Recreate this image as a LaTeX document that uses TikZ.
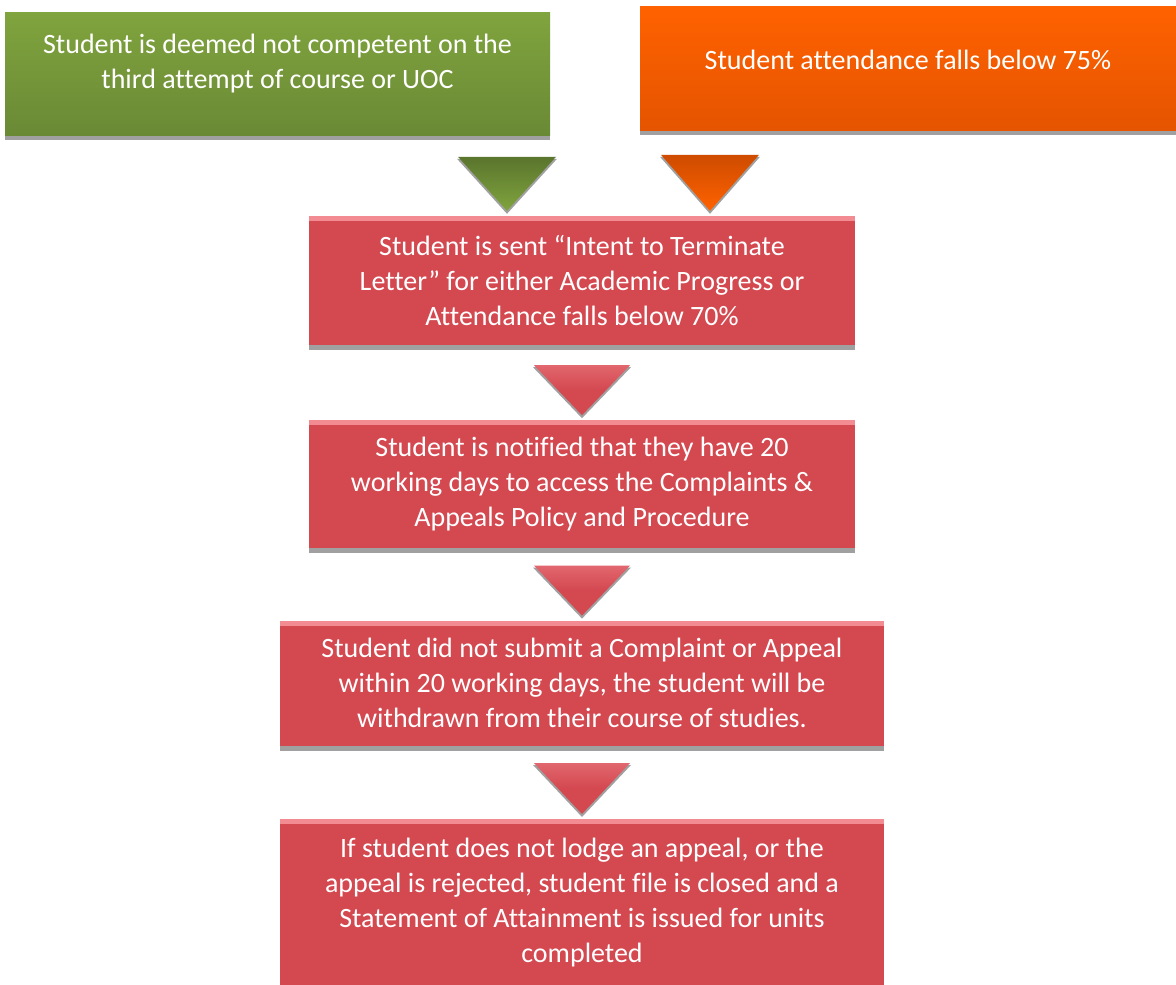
\documentclass[tikz,border=0pt]{standalone}
\usepackage{fontspec}
\setmainfont{Carlito}[Ligatures=CommonOff]
\usetikzlibrary{positioning, calc, shadows}

\definecolor{greentop}{RGB}{128,164,62}
\definecolor{greenbot}{RGB}{106,137,53}
\definecolor{orangetop}{RGB}{255,98,0}
\definecolor{orangebot}{RGB}{229,84,0}
\definecolor{redfill}{RGB}{212,72,80}
\definecolor{redline}{RGB}{242,140,146}
\definecolor{shadowgray}{RGB}{160,160,160}

% seta larga (triangulo) apontando para baixo, ponta logo acima do no #3
\newcommand{\downchev}[5]{%
  \coordinate (tip) at ($(#2,0 |- #3.north)+(0,-5)$);
  \fill[shadowgray] ($(tip)+(-#4-1,-#5+2)$) -- ($(tip)+(#4+1,-#5+2)$) -- ($(tip)+(0,3)$) -- cycle;
  \path[#1] ($(tip)+(-#4,-#5)$) -- ($(tip)+(#4,-#5)$) -- (tip) -- cycle;
}

\begin{document}
\begin{tikzpicture}[
    x=1pt, y=-1pt,
    box/.style={text=white, align=center, inner sep=0pt,
      font=\fontsize{28}{35}\selectfont,
      drop shadow={shadow xshift=0pt, shadow yshift=-5pt, fill=shadowgray, opacity=1}},
    greenbox/.style={box, top color=greentop, bottom color=greenbot,
      minimum width=545pt, minimum height=123pt},
    orangebox/.style={box, top color=orangetop, bottom color=orangebot,
      minimum width=536pt, minimum height=124pt},
    redbox/.style={box, fill=redfill,
      path picture={\fill[redline] (path picture bounding box.north west)
        rectangle ([yshift=-5pt]path picture bounding box.north east);}},
    boxtext/.style={text=white, align=center, inner sep=0pt,
      font=\fontsize{28}{35}\selectfont},
    greenarr/.style={top color=greenbot!85!black, bottom color=greentop},
    orangearr/.style={top color=orangebot!90!black, bottom color=orangetop},
    redarr/.style={top color=redfill!55!redline, bottom color=redfill, middle color=redfill}
  ]

  \fill[white] (0,0) rectangle (1176,985);
  \useasboundingbox (0,0) rectangle (1176,985);

  % --- CAIXAS DE ENTRADA ---
  \node[greenbox] (green) at (277.5,73.5) {};
  \node[boxtext] (greentxt) at ([yshift=10pt]green.center)
    {Student is deemed not competent on the\\ third attempt of course or UOC};

  \node[orangebox] (orange) at (908,68) {};
  \node[boxtext] (orangetxt) at ([yshift=8pt]orange.center)
    {Student attendance falls below 75\%};

  % --- PASSOS ---
  \node[redbox, minimum width=546pt, minimum height=129pt] (letter) at (582,280.5)
    {Student is sent “Intent to Terminate\\ Letter” for either Academic Progress or\\ Attendance falls below 70\%};

  \node[redbox, minimum width=546pt, minimum height=128pt, below=75pt of letter] (notify)
    {Student is notified that they have 20\\ working days to access the Complaints \&\\ Appeals Policy and Procedure};

  \node[redbox, minimum width=604pt, minimum height=125pt, below=72pt of notify] (withdraw)
    {Student did not submit a Complaint or Appeal\\ within 20 working days, the student will be\\ withdrawn from their course of studies.};

  \node[redbox, minimum width=604pt, minimum height=167pt, below=73pt of withdraw] (closed)
    {If student does not lodge an appeal, or the\\ appeal is rejected, student file is closed and a\\ Statement of Attainment is issued for units\\ completed};

  % --- SETAS ---
  \downchev{greenarr}{507}{letter}{49}{54}
  \downchev{orangearr}{710}{letter}{49}{56}
  \downchev{redarr}{582}{notify}{48}{50}
  \downchev{redarr}{582}{withdraw}{48}{50}
  \downchev{redarr}{582}{closed}{48}{51}

\end{tikzpicture}
\end{document}
